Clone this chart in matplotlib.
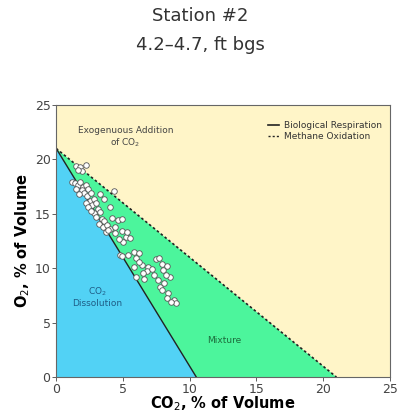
import matplotlib.pyplot as plt
from matplotlib.lines import Line2D

# soil gas O2 vs CO2 readings (% of volume)
co2 = [1.5, 1.8, 2.2, 1.9, 1.6,
       1.2, 1.4, 1.6, 1.8, 2.0, 1.5, 1.9, 2.2, 2.4, 2.1, 1.7, 2.3, 2.6, 2.5, 2.2,
       2.8, 2.7, 3.0, 2.4, 3.1, 2.8, 3.3, 2.6, 3.0, 3.4, 3.2, 3.6, 3.5, 3.8, 4.0,
       3.7, 4.3, 3.6, 3.3, 4.0, 4.2, 4.6, 4.9, 4.4,
       3.9, 4.4, 4.9, 5.2, 5.5, 5.0, 4.7, 5.3, 4.8, 4.9, 5.4,
       5.8, 6.2, 6.0, 5.8, 6.4, 6.2, 6.9, 6.8, 7.3, 6.0, 6.6, 7.5, 7.9, 7.7, 8.3,
       8.0, 8.5, 8.2, 7.8, 7.6, 8.1, 7.9, 8.4, 8.3, 8.8, 9.0, 8.6, 7.2, 6.5]
o2 = [19.4, 19.3, 19.5, 18.9, 19.0,
      17.9, 17.8, 17.6, 17.9, 17.5, 17.3, 17.2, 17.6, 17.3, 16.9, 16.8, 16.6, 16.9, 16.2, 16.0,
      16.4, 15.8, 16.0, 15.6, 15.4, 15.1, 15.2, 15.3, 14.7, 14.5, 14.1, 14.3, 13.8, 14.0, 13.6,
      13.3, 17.1, 16.4, 16.8, 15.6, 14.6, 14.4, 14.5, 13.8,
      13.5, 13.2, 13.4, 12.9, 12.8, 12.4, 12.7, 13.3, 11.2, 11.1, 11.2,
      11.5, 11.4, 10.9, 10.1, 10.3, 10.6, 10.1, 9.7, 9.4, 9.2, 9.0, 10.8, 10.4, 10.9, 10.2,
      9.8, 9.2, 9.4, 8.3, 8.9, 8.6, 8.0, 7.7, 7.3, 7.1, 6.8, 6.9, 9.9, 9.6]

# reference lines: atmospheric O2 at zero CO2
resp_x = [0, 10.5]
resp_y = [21, 0]
meth_x = [0, 21]
meth_y = [21, 0]

fig = plt.figure(figsize=(4.04, 4.13), dpi=100)
ax = fig.add_axes([0.139, 0.087, 0.826, 0.659])

# shaded zones
ax.fill_between([0, 25], 0, 25, color='#fff5c8', lw=0)
ax.fill([0, 21, 0], [21, 0, 0], color='#4cf59c', lw=0)
ax.fill([0, 10.5, 0], [21, 0, 0], color='#52d2f5', lw=0)

ax.plot(resp_x, resp_y, color='#222222', lw=1)
ax.plot(meth_x, meth_y, color='#222222', lw=1.2, ls=(0, (1.5, 1.5)))

ax.scatter(co2, o2, s=16, facecolor='white', edgecolor='#555555', linewidth=0.6, zorder=3)

ax.text(5.2, 22.0, 'Exogenuous Addition\nof CO$_2$', ha='center', va='center',
        fontsize=6.5, color='#444444')
ax.text(3.1, 7.4, 'CO$_2$\nDissolution', ha='center', va='center',
        fontsize=6.5, color='#1f5d86')
ax.text(12.6, 3.4, 'Mixture', ha='center', va='center', fontsize=6.5, color='#1d6b3c')

handles = [Line2D([], [], color='#222222', lw=1.2),
           Line2D([], [], color='#222222', lw=1.0, ls=(0, (1.5, 1.5)))]
ax.legend(handles, ['Biological Respiration', 'Methane Oxidation'], loc='upper right',
          frameon=False, fontsize=6.5, handlelength=1.2, handletextpad=0.5,
          labelspacing=0.2, bbox_to_anchor=(1.0, 0.97), labelcolor='#333333')

ax.set_xlim(0, 25)
ax.set_ylim(0, 25)
ax.set_xticks([0, 5, 10, 15, 20, 25])
ax.set_yticks([0, 5, 10, 15, 20, 25])
ax.tick_params(labelsize=9, colors='#444444', length=3, width=0.6, pad=1)
for s in ax.spines.values():
    s.set_color('#666666')
    s.set_linewidth(0.8)

ax.set_xlabel('CO$_2$, % of Volume', fontsize=10.5, fontweight='bold', labelpad=-1)
ax.set_ylabel('O$_2$, % of Volume', fontsize=10.5, fontweight='bold', labelpad=2)

fig.text(0.495, 0.962, 'Station #2', ha='center', va='center', fontsize=13, color='#333333')
fig.text(0.495, 0.89, '4.2\u20134.7, ft bgs', ha='center', va='center', fontsize=13, color='#333333')

fig.savefig('out.png', dpi=100)
